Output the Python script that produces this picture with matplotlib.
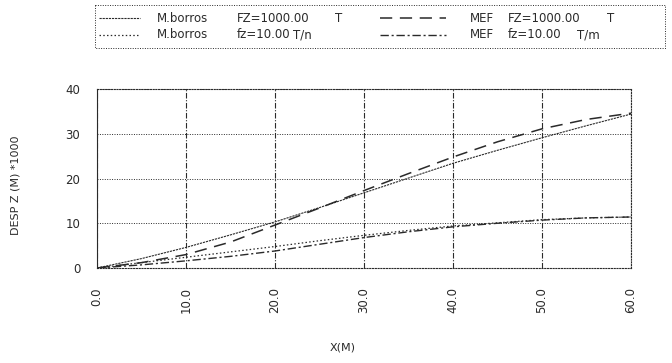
import matplotlib
matplotlib.use("Agg")
import matplotlib.pyplot as plt
from matplotlib.patches import Rectangle

# data (deflection * 1000 vs x)
x_m = [0, 5, 10, 15, 20, 25, 30, 35, 40, 45, 50, 55, 60]
borros_FZ = [0, 2.1, 4.6, 7.4, 10.3, 13.5, 16.8, 20.1, 23.4, 26.3, 29.1, 31.8, 34.4]
mef_FZ = [0, 1.2, 3.0, 5.8, 9.6, 13.4, 17.3, 21.1, 24.8, 28.2, 31.1, 33.2, 34.6]
borros_fz = [0, 1.2, 2.4, 3.6, 4.8, 6.1, 7.3, 8.4, 9.4, 10.1, 10.8, 11.2, 11.4]
mef_fz = [0, 0.7, 1.6, 2.6, 3.8, 5.3, 6.8, 8.1, 9.2, 10.0, 10.7, 11.2, 11.4]

x_ticks = [0, 10, 20, 30, 40, 50, 60]
x_ticklabels = ["0.0", "10.0", "20.0", "30.0", "40.0", "50.0", "60.0"]
y_ticks = [0, 10, 20, 30, 40]

legend_rows = [
    ("M.borros", "FZ=1000.00", "T", "MEF", "FZ=1000.00", "T"),
    ("M.borros", "fz=10.00", "T/n", "MEF", "fz=10.00", "T/m"),
]

INK = "#2a2a2a"
FONT = "DejaVu Sans"
W, H = 672, 363

STYLES = {
    "borros_FZ": dict(ls=(0, (2, 0.8)), lw=0.8),
    "borros_fz": dict(ls=(0, (1.2, 1.8)), lw=0.9),
    "mef_FZ": dict(ls=(0, (8, 5)), lw=1.1),
    "mef_fz": dict(ls=(0, (6, 2, 1.5, 2)), lw=1.0),
}


def px_axes(fig, left, top, right, bottom):
    return fig.add_axes([left / W, 1 - bottom / H, (right - left) / W, (bottom - top) / H])


fig = plt.figure(figsize=(W / 100, H / 100), dpi=100)
ax = px_axes(fig, 97, 89, 631, 268)

ax.plot(x_m, borros_FZ, color=INK, **STYLES["borros_FZ"])
ax.plot(x_m, mef_FZ, color=INK, **STYLES["mef_FZ"])
ax.plot(x_m, borros_fz, color=INK, **STYLES["borros_fz"])
ax.plot(x_m, mef_fz, color=INK, **STYLES["mef_fz"])

ax.set_xlim(0, 60)
ax.set_ylim(0, 40)
ax.set_xticks(x_ticks)
ax.set_xticklabels(x_ticklabels, rotation=90, va="top", ha="center")
ax.set_yticks(y_ticks)
ax.tick_params(length=0, labelsize=8.5, colors=INK, pad=12)
ax.tick_params(axis="x", pad=14)
for lab in ax.get_xticklabels() + ax.get_yticklabels():
    lab.set_fontfamily(FONT)

ax.grid(axis="y", ls=(0, (1, 1.5)), lw=0.7, color=INK)
ax.grid(axis="x", ls=(0, (5, 1.5, 1, 1.5)), lw=0.8, color=INK)
for side, sp in ax.spines.items():
    sp.set_color(INK)
    sp.set_linewidth(0.8)
    if side != "left":
        sp.set_linestyle((0, (1, 1.5)))

# axis titles placed where the plotter put them
fig.text(16 / W, 1 - 185 / H, "DESP Z (M) *1000", rotation=90, ha="center", va="center",
         fontfamily=FONT, fontsize=8, color=INK)
fig.text(343 / W, 1 - 348 / H, "X(M)", ha="center", va="center",
         fontfamily=FONT, fontsize=8, color=INK)

# legend drawn by hand in pixel coordinates, like the plotter box
leg = fig.add_axes([0, 0, 1, 1], facecolor="none")
leg.set_xlim(0, W)
leg.set_ylim(H, 0)
leg.axis("off")
leg.add_patch(Rectangle((95, 5), 570, 43, fill=False, ec=INK, lw=0.7, ls=(0, (1, 1.5))))

row_y = [18, 35]
left_keys = ["borros_FZ", "borros_fz"]
right_keys = ["mef_FZ", "mef_fz"]
for y, row, lk, rk in zip(row_y, legend_rows, left_keys, right_keys):
    leg.plot([99, 140], [y, y], color=INK, **STYLES[lk])
    leg.plot([380, 446], [y, y], color=INK, **STYLES[rk])
    name1, load1, unit1, name2, load2, unit2 = row
    for xpos, txt in [(157, name1), (237, load1), (335 if unit1 == "T" else 293, unit1),
                      (470, name2), (508, load2), (607 if unit2 == "T" else 577, unit2)]:
        leg.text(xpos, y, txt, fontfamily=FONT, fontsize=8.5, color=INK, va="center", ha="left")

fig.savefig("out.png", dpi=100, facecolor="white")
